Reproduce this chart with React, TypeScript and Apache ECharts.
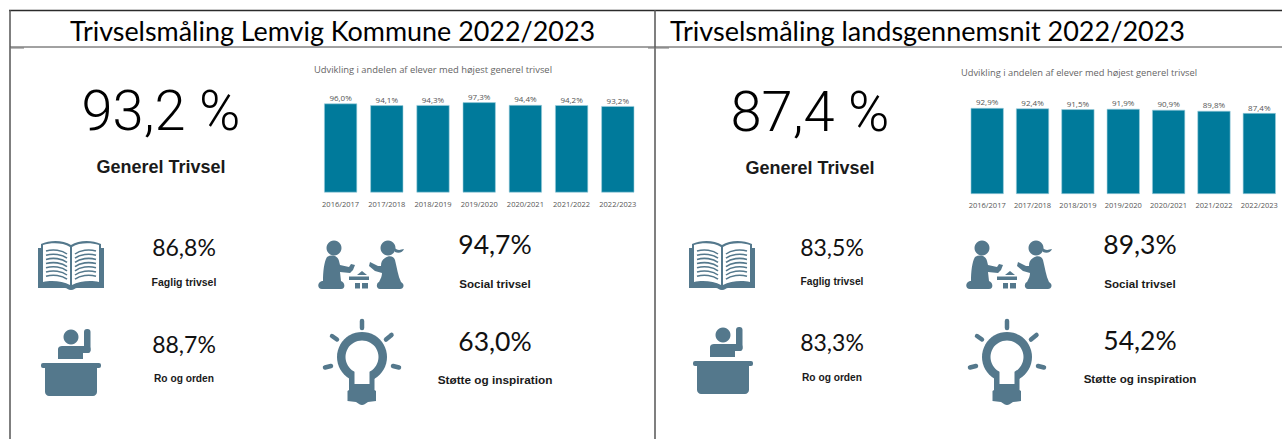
import React, { useEffect, useRef } from "react";
import * as echarts from "echarts";

const categories = ["2016/2017", "2017/2018", "2018/2019", "2019/2020", "2020/2021", "2021/2022", "2022/2023"];
const lemvigValues = [96.0, 94.1, 94.3, 97.3, 94.4, 94.2, 93.2];
const landsValues = [92.9, 92.4, 91.5, 91.9, 90.9, 89.8, 87.4];
const titles = ["Trivselsmåling Lemvig Kommune 2022/2023", "Trivselsmåling landsgennemsnit 2022/2023"];
const chartTitle = "Udvikling i andelen af elever med højest generel trivsel";
const headline = ["93,2 %", "87,4 %"];
const headlineLabel = "Generel Trivsel";
const kpiLabels = ["Faglig trivsel", "Ro og orden", "Social trivsel", "Støtte og inspiration"];
const lemvigKpis = ["86,8%", "88,7%", "94,7%", "63,0%"];
const landsKpis = ["83,5%", "83,3%", "89,3%", "54,2%"];

const ICON = "#54788C";
const BAR = "#007A9B";

let lines = "";
for (let i = 0; i < 7; i++) {
  const y = 10 + i * 4.2;
  lines += `M8 ${y} C15 ${y - 2} 24 ${y - 1} 29 ${y + 3} `;
  lines += `M37 ${y + 3} C42 ${y - 1} 51 ${y - 2} 58 ${y} `;
}

const shapes: Record<string, string> = {
  bookBase:
    "M0 7 L3 7 L3 3 C12 -1 25 -1 33 4 C41 -1 54 -1 63 3 L63 7 L66 7 L66 47 L39 47 C37 47 36 49 33 49 C30 49 29 47 27 47 L0 47 Z",
  bookPages:
    "M5 4 C13 1.5 25 1.5 32 6 L32 44 C25 40 13 39 5 41 Z M34 6 C41 1.5 53 1.5 61 4 L61 41 C53 39 41 40 34 44 Z",
  bookLines: lines,
  kidLeft:
    "M8 17 C13 14 19 16 20 21 L21 25 L30 27 L32 24 L36 25 L34 30 L31 33 L21 32 L22 41 C26 42 27 49 22 49 L3 49 C-2 49 -2 42 3 41 L4 41 C4 32 5 22 8 17 Z",
  kidRight:
    "M66 18 C70 15 75 16 76 20 C78 28 79 36 82 42 C86 44 85 49 81 49 L61 49 C57 49 57 43 60 42 C62 38 63 36 63 33 L56 31 L50 26 L51 22 L55 24 L59 26 L62 26 C62 22 63 20 66 18 Z",
  pigtail: "M75 7 C78 11 81 10 85 9 C84 12 80 14 76 12 Z",
  deskBody: "M4 0 L56 0 L56 24 C56 26 54 28 52 28 L8 28 C6 28 4 26 4 24 Z",
  pupilBody: "M0 19 C0 17 2 16 4 16 L25 16 L25 29 L0 29 Z",
  bulbBase: "M-13 20 L12.5 20 L12.5 33 L14 34 L14 44 L6 45 C3 47 2 48 0 48 C-2 48 -3 47 -6 45 L-14.5 44 L-14.5 34 L-13 33 Z",
};
Object.keys(shapes).forEach((k) => {
  echarts.graphic.registerShape(k, echarts.graphic.extendPath(shapes[k], {}));
});

const fill = { fill: ICON };

function book(x: number, y: number) {
  return {
    type: "group", x, y,
    children: [
      { type: "bookBase", style: fill },
      { type: "bookPages", style: { fill: "#fff" } },
      { type: "bookLines", style: { fill: "none", stroke: ICON, lineWidth: 1.6 } },
    ],
  };
}

function desk(x: number, y: number) {
  return {
    type: "group", x, y,
    children: [
      { type: "circle", shape: { cx: 30, cy: 7, r: 7.5 }, style: fill },
      { type: "rect", shape: { x: 43, y: -1, width: 6.5, height: 24, r: 3 }, style: fill },
      { type: "pupilBody", x: 17, y: 0, style: fill },
      { type: "rect", shape: { x: 38, y: 16, width: 11.5, height: 7, r: 3 }, style: fill },
      { type: "rect", shape: { x: 0, y: 33, width: 60, height: 5, r: 2 }, style: fill },
      { type: "deskBody", x: 0, y: 38, style: fill },
    ],
  };
}

function kids(x: number, y: number) {
  return {
    type: "group", x, y,
    children: [
      { type: "circle", shape: { cx: 15, cy: 8, r: 7.5 }, style: fill },
      { type: "kidLeft", style: fill },
      { type: "circle", shape: { cx: 69, cy: 8, r: 7.5 }, style: fill },
      { type: "pigtail", style: fill },
      { type: "kidRight", style: fill },
      { type: "polygon", shape: { points: [[38, 35], [43, 31], [48, 35]] }, style: fill },
      { type: "rect", shape: { x: 30, y: 36.5, width: 20, height: 3.5 }, style: fill },
      { type: "rect", shape: { x: 36, y: 43, width: 5, height: 5.5 }, style: fill },
      { type: "rect", shape: { x: 43, y: 43, width: 6, height: 5.5 }, style: fill },
    ],
  };
}

function bulb(x: number, y: number) {
  const ray = { stroke: ICON, lineWidth: 4.5, lineCap: "round" };
  return {
    type: "group", x, y,
    children: [
      { type: "circle", shape: { cx: 0, cy: 0, r: 25 }, style: fill },
      { type: "bulbBase", style: fill },
      { type: "circle", shape: { cx: 0, cy: 0, r: 16.5 }, style: { fill: "#fff" } },
      { type: "rect", shape: { x: -7.5, y: 10, width: 15, height: 17 }, style: { fill: "#fff" } },
      { type: "line", shape: { x1: 0, y1: -36, x2: 0, y2: -29 }, style: ray },
      { type: "line", shape: { x1: -30, y1: -21, x2: -25, y2: -17.5 }, style: ray },
      { type: "line", shape: { x1: 24, y1: -17.5, x2: 29.5, y2: -22 }, style: ray },
      { type: "line", shape: { x1: -37, y1: 10.5, x2: -31, y2: 9 }, style: ray },
      { type: "line", shape: { x1: 31, y1: 9, x2: 37, y2: 10.5 }, style: ray },
    ],
  };
}

function txt(text: string, x: number, y: number, size: number, opts: any = {}) {
  return {
    type: "text", x, y,
    style: {
      text,
      fontSize: size,
      fontFamily: opts.family || "Liberation Sans",
      fontWeight: opts.weight || "normal",
      fill: opts.color || "#111",
      textAlign: opts.align || "center",
      textVerticalAlign: "middle",
    },
  };
}

const bold = { weight: "bold", color: "#1a1a1a" };
const big = { family: "Roboto", weight: 300, color: "#000" };
const kpi = { family: "Lato", color: "#111" };
const head = { family: "Lato", color: "#000", align: "left" };
const sub = { family: "Open Sans", color: "#666", align: "left" };

function rule(x1: number, y1: number, x2: number, y2: number, color: string, w: number) {
  return { type: "line", shape: { x1, y1, x2, y2 }, style: { stroke: color, lineWidth: w } };
}

const pct = (p: any) => p.value.toFixed(1).replace(".", ",") + "%";

function barSeries(data: number[], i: number) {
  return {
    type: "bar",
    xAxisIndex: i,
    yAxisIndex: i,
    data,
    barWidth: 33,
    itemStyle: { color: BAR, borderColor: "#9fd0de", borderWidth: 0.6 },
    label: {
      show: true, position: "top", distance: 2, formatter: pct,
      fontSize: 8, color: "#555", fontFamily: "Open Sans",
    },
  };
}

function xAxisFor(i: number) {
  return {
    type: "category", gridIndex: i, data: categories,
    axisLine: { show: false }, axisTick: { show: false },
    axisLabel: { interval: 0, margin: 7, fontSize: 7.5, color: "#555", fontFamily: "Open Sans" },
  };
}

function yAxisFor(i: number) {
  return { type: "value", gridIndex: i, min: 0, max: 100, show: false };
}

export default function App() {
  const ref = useRef<HTMLDivElement>(null);
  useEffect(() => {
    const chart = echarts.init(ref.current!, undefined, { renderer: "svg" });
    chart.setOption({
      animation: false,
      backgroundColor: "#fff",
      grid: [
        { left: 317.5, top: 99.8, width: 323.4, height: 92.7 },
        { left: 964.5, top: 101.4, width: 319.9, height: 92.6 },
      ],
      xAxis: [xAxisFor(0), xAxisFor(1)],
      yAxis: [yAxisFor(0), yAxisFor(1)],
      series: [barSeries(lemvigValues, 0), barSeries(landsValues, 1)],
      graphic: [
        rule(9, 10.5, 1282, 10.5, "#2b2b2b", 1.5),
        rule(10, 47, 1282, 47, "#444", 1),
        rule(10, 10, 10, 439, "#555", 1.5),
        rule(655, 10, 655, 439, "#555", 1.5),
        rule(10, 48, 24, 48, "#777", 1),
        rule(648, 48, 669, 48, "#777", 1),

        txt(titles[0], 70, 30, 26.9, head),
        txt(titles[1], 670, 30, 27, head),
        txt(chartTitle, 314, 69, 9.4, sub),
        txt(chartTitle, 961, 72, 9.3, sub),

        txt(headline[0], 161, 111, 56, big),
        txt(headline[1], 810, 112, 56, big),
        txt(headlineLabel, 161, 167, 18, bold),
        txt(headlineLabel, 810, 168, 18, bold),

        book(38, 241),
        book(689, 241),
        desk(41, 330),
        desk(693, 328),
        kids(319, 240),
        kids(967, 240),
        bulb(362, 357),
        bulb(1007, 357),

        txt(lemvigKpis[0], 184, 247, 23, kpi),
        txt(kpiLabels[0], 184, 282, 10.5, bold),
        txt(lemvigKpis[1], 184, 344, 23, kpi),
        txt(kpiLabels[1], 184, 378, 10.2, bold),
        txt(lemvigKpis[2], 495, 244, 26.5, kpi),
        txt(kpiLabels[2], 495, 283, 11.6, bold),
        txt(lemvigKpis[3], 495, 341, 26.5, kpi),
        txt(kpiLabels[3], 495, 380, 11.8, bold),

        txt(landsKpis[0], 832, 247, 23, kpi),
        txt(kpiLabels[0], 832, 281, 10.2, bold),
        txt(landsKpis[1], 832, 342, 23, kpi),
        txt(kpiLabels[1], 832, 377, 10.2, bold),
        txt(landsKpis[2], 1140, 244, 26.5, kpi),
        txt(kpiLabels[2], 1140, 283, 11.6, bold),
        txt(landsKpis[3], 1140, 340, 26.5, kpi),
        txt(kpiLabels[3], 1140, 378, 11.6, bold),
      ],
    });
    return () => chart.dispose();
  }, []);
  return <div ref={ref} style={{ position: "absolute", left: 0, top: 0, width: 1282, height: 439, overflow: "hidden" }} />;
}
